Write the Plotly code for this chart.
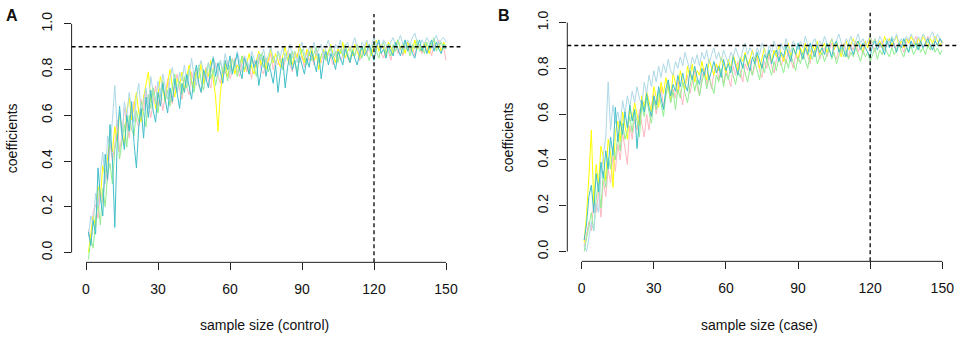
import plotly.graph_objects as go

# ---------------- data ----------------
sample_size = list(range(1, 151))

# Panel A: sample size (control)
a_pink = [0.10, 0.04, 0.18, 0.21, 0.15, 0.27, 0.22, 0.36, 0.31, 0.48,
          0.40, 0.47, 0.58, 0.44, 0.52, 0.63, 0.57, 0.50, 0.62, 0.66,
          0.58, 0.55, 0.67, 0.62, 0.71, 0.64, 0.59, 0.66, 0.73, 0.64,
          0.70, 0.62, 0.68, 0.76, 0.69, 0.65, 0.74, 0.78, 0.71, 0.67,
          0.76, 0.72, 0.69, 0.79, 0.74, 0.80, 0.73, 0.70, 0.77, 0.81,
          0.75, 0.72, 0.80, 0.83, 0.77, 0.74, 0.81, 0.78, 0.84, 0.76,
          0.79, 0.85, 0.80, 0.77, 0.83, 0.86, 0.79, 0.82, 0.76, 0.84,
          0.81, 0.86, 0.80, 0.78, 0.85, 0.83, 0.87, 0.80, 0.84, 0.82,
          0.86, 0.80, 0.84, 0.88, 0.82, 0.79, 0.85, 0.87, 0.83, 0.86,
          0.81, 0.88, 0.84, 0.86, 0.82, 0.89, 0.85, 0.83, 0.87, 0.84,
          0.88, 0.85, 0.82, 0.87, 0.89, 0.84, 0.86, 0.90, 0.85, 0.83,
          0.88, 0.86, 0.90, 0.84, 0.87, 0.89, 0.86, 0.91, 0.87, 0.85,
          0.89, 0.92, 0.87, 0.85, 0.90, 0.88, 0.84, 0.89, 0.91, 0.87,
          0.90, 0.86, 0.89, 0.92, 0.88, 0.90, 0.86, 0.91, 0.89, 0.87,
          0.92, 0.88, 0.90, 0.86, 0.91, 0.89, 0.93, 0.88, 0.90, 0.84]
a_yellow = [0.00, 0.09, 0.16, 0.11, 0.29, 0.24, 0.38, 0.33, 0.42, 0.50,
            0.44, 0.55, 0.49, 0.61, 0.53, 0.47, 0.62, 0.68, 0.58, 0.64,
            0.70, 0.61, 0.57, 0.68, 0.74, 0.79, 0.66, 0.72, 0.63, 0.69,
            0.77, 0.71, 0.66, 0.74, 0.80, 0.72, 0.68, 0.76, 0.73, 0.79,
            0.71, 0.77, 0.82, 0.75, 0.72, 0.79, 0.76, 0.83, 0.74, 0.80,
            0.77, 0.84, 0.76, 0.68, 0.53, 0.70, 0.79, 0.83, 0.77, 0.81,
            0.85, 0.78, 0.82, 0.80, 0.86, 0.79, 0.83, 0.87, 0.81, 0.78,
            0.84, 0.88, 0.82, 0.86, 0.80, 0.85, 0.89, 0.83, 0.87, 0.84,
            0.81, 0.86, 0.90, 0.84, 0.87, 0.82, 0.88, 0.85, 0.91, 0.86,
            0.83, 0.89, 0.86, 0.90, 0.84, 0.87, 0.80, 0.86, 0.89, 0.85,
            0.88, 0.91, 0.86, 0.83, 0.89, 0.87, 0.92, 0.85, 0.88, 0.90,
            0.86, 0.91, 0.88, 0.85, 0.90, 0.87, 0.92, 0.89, 0.86, 0.91,
            0.93, 0.88, 0.91, 0.89, 0.86, 0.92, 0.90, 0.87, 0.91, 0.93,
            0.89, 0.91, 0.87, 0.92, 0.90, 0.88, 0.93, 0.89, 0.91, 0.88,
            0.92, 0.90, 0.87, 0.91, 0.93, 0.89, 0.91, 0.88, 0.92, 0.90]
a_green = [-0.03, 0.06, 0.02, 0.14, 0.22, 0.12, 0.28, 0.20, 0.34, 0.39,
           0.30, 0.45, 0.52, 0.41, 0.49, 0.56, 0.46, 0.60, 0.54, 0.51,
           0.62, 0.57, 0.66, 0.60, 0.55, 0.69, 0.63, 0.72, 0.67, 0.61,
           0.70, 0.75, 0.66, 0.71, 0.64, 0.73, 0.78, 0.70, 0.75, 0.69,
           0.77, 0.72, 0.80, 0.74, 0.70, 0.78, 0.82, 0.75, 0.71, 0.79,
           0.83, 0.76, 0.80, 0.73, 0.79, 0.84, 0.78, 0.81, 0.75, 0.82,
           0.79, 0.84, 0.77, 0.82, 0.86, 0.80, 0.83, 0.78, 0.85, 0.81,
           0.77, 0.84, 0.87, 0.81, 0.85, 0.79, 0.83, 0.86, 0.82, 0.88,
           0.84, 0.80, 0.87, 0.85, 0.82, 0.88, 0.84, 0.79, 0.86, 0.89,
           0.85, 0.82, 0.88, 0.84, 0.87, 0.90, 0.83, 0.86, 0.88, 0.84,
           0.87, 0.90, 0.85, 0.88, 0.83, 0.89, 0.86, 0.91, 0.87, 0.84,
           0.89, 0.86, 0.91, 0.88, 0.85, 0.90, 0.87, 0.84, 0.89, 0.92,
           0.88, 0.85, 0.90, 0.92, 0.87, 0.89, 0.86, 0.91, 0.88, 0.93,
           0.89, 0.87, 0.92, 0.90, 0.86, 0.91, 0.89, 0.93, 0.88, 0.90,
           0.87, 0.92, 0.89, 0.91, 0.94, 0.88, 0.90, 0.92, 0.89, 0.91]
a_lightblue = [0.07, 0.16, 0.12, 0.26, 0.20, 0.35, 0.44, 0.30, 0.51, 0.46,
               0.58, 0.73, 0.55, 0.62, 0.49, 0.66, 0.59, 0.70, 0.63, 0.57,
               0.68, 0.74, 0.61, 0.66, 0.72, 0.63, 0.77, 0.70, 0.65, 0.75,
               0.69, 0.78, 0.72, 0.67, 0.76, 0.81, 0.73, 0.70, 0.79, 0.75,
               0.82, 0.74, 0.78, 0.85, 0.77, 0.73, 0.81, 0.84, 0.78, 0.75,
               0.83, 0.79, 0.86, 0.81, 0.77, 0.84, 0.80, 0.87, 0.82, 0.78,
               0.85, 0.81, 0.88, 0.83, 0.79, 0.86, 0.84, 0.81, 0.88, 0.85,
               0.82, 0.87, 0.84, 0.89, 0.83, 0.86, 0.90, 0.85, 0.82, 0.88,
               0.86, 0.90, 0.84, 0.87, 0.91, 0.85, 0.88, 0.83, 0.89, 0.92,
               0.87, 0.84, 0.90, 0.88, 0.92, 0.86, 0.89, 0.91, 0.85, 0.90,
               0.93, 0.88, 0.86, 0.91, 0.89, 0.93, 0.87, 0.90, 0.92, 0.88,
               0.91, 0.94, 0.89, 0.87, 0.92, 0.90, 0.93, 0.88, 0.91, 0.94,
               0.90, 0.92, 0.89, 0.93, 0.91, 0.88, 0.92, 0.94, 0.90, 0.92,
               0.95, 0.91, 0.89, 0.93, 0.91, 0.94, 0.96, 0.92, 0.90, 0.93,
               0.91, 0.94, 0.92, 0.89, 0.93, 0.95, 0.91, 0.93, 0.94, 0.92]
a_teal = [0.09, 0.03, 0.14, 0.08, 0.37, 0.24, 0.16, 0.43, 0.32, 0.56,
          0.41, 0.11, 0.48, 0.64, 0.52, 0.45, 0.60, 0.53, 0.66, 0.48,
          0.37, 0.55, 0.63, 0.50, 0.68, 0.59, 0.71, 0.62, 0.57, 0.70,
          0.64, 0.74, 0.67, 0.61, 0.72, 0.66, 0.76, 0.69, 0.63, 0.74,
          0.70, 0.78, 0.72, 0.67, 0.77, 0.82, 0.74, 0.70, 0.80, 0.76,
          0.72, 0.81, 0.85, 0.77, 0.83, 0.79, 0.74, 0.84, 0.80, 0.86,
          0.78, 0.83, 0.87, 0.80, 0.76, 0.85, 0.82, 0.78, 0.86, 0.81,
          0.84, 0.73, 0.80, 0.86, 0.77, 0.83, 0.79, 0.74, 0.82, 0.70,
          0.79, 0.85, 0.72, 0.81, 0.87, 0.80, 0.84, 0.77, 0.86, 0.82,
          0.78, 0.85, 0.81, 0.88, 0.83, 0.79, 0.87, 0.76, 0.84, 0.88,
          0.82, 0.87, 0.84, 0.80, 0.88, 0.85, 0.82, 0.89, 0.86, 0.83,
          0.88, 0.85, 0.82, 0.87, 0.90, 0.86, 0.88, 0.91, 0.87, 0.84,
          0.90, 0.93, 0.87, 0.89, 0.85, 0.91, 0.88, 0.86, 0.92, 0.89,
          0.86, 0.90, 0.93, 0.88, 0.91, 0.87, 0.85, 0.90, 0.93, 0.88,
          0.91, 0.87, 0.90, 0.93, 0.88, 0.92, 0.89, 0.87, 0.91, 0.89]

# Panel B: sample size (case)
b_pink = [0.02, 0.07, 0.13, 0.09, 0.22, 0.17, 0.26, 0.15, 0.31, 0.24,
          0.36, 0.30, 0.42, 0.35, 0.47, 0.40, 0.52, 0.45, 0.38, 0.55,
          0.49, 0.58, 0.53, 0.62, 0.56, 0.50, 0.60, 0.53, 0.64, 0.69,
          0.60, 0.66, 0.72, 0.63, 0.68, 0.74, 0.65, 0.71, 0.67, 0.75,
          0.70, 0.64, 0.73, 0.77, 0.69, 0.74, 0.79, 0.72, 0.68, 0.76,
          0.80, 0.73, 0.77, 0.71, 0.78, 0.82, 0.75, 0.79, 0.73, 0.80,
          0.76, 0.72, 0.81, 0.77, 0.83, 0.78, 0.74, 0.82, 0.79, 0.84,
          0.77, 0.81, 0.85, 0.79, 0.76, 0.83, 0.80, 0.86, 0.81, 0.78,
          0.84, 0.87, 0.81, 0.85, 0.82, 0.88, 0.84, 0.80, 0.86, 0.83,
          0.87, 0.84, 0.89, 0.85, 0.82, 0.88, 0.86, 0.90, 0.84, 0.87,
          0.89, 0.85, 0.88, 0.91, 0.86, 0.84, 0.89, 0.87, 0.91, 0.88,
          0.85, 0.90, 0.88, 0.92, 0.87, 0.90, 0.86, 0.91, 0.89, 0.93,
          0.90, 0.87, 0.91, 0.89, 0.92, 0.88, 0.90, 0.93, 0.89, 0.91,
          0.88, 0.92, 0.90, 0.87, 0.91, 0.93, 0.89, 0.91, 0.94, 0.90,
          0.92, 0.89, 0.91, 0.94, 0.90, 0.88, 0.92, 0.90, 0.93, 0.91]
b_yellow = [0.04, 0.16, 0.33, 0.53, 0.21, 0.38, 0.29, 0.46, 0.41, 0.31,
            0.49, 0.43, 0.28, 0.52, 0.57, 0.48, 0.61, 0.54, 0.49, 0.63,
            0.58, 0.65, 0.60, 0.55, 0.68, 0.63, 0.70, 0.66, 0.61, 0.72,
            0.67, 0.63, 0.74, 0.69, 0.76, 0.71, 0.66, 0.78, 0.73, 0.69,
            0.79, 0.74, 0.71, 0.81, 0.76, 0.82, 0.74, 0.79, 0.77, 0.83,
            0.78, 0.75, 0.84, 0.80, 0.77, 0.82, 0.79, 0.85, 0.81, 0.78,
            0.84, 0.80, 0.86, 0.82, 0.79, 0.85, 0.83, 0.87, 0.81, 0.84,
            0.88, 0.83, 0.86, 0.80, 0.85, 0.89, 0.84, 0.87, 0.83, 0.88,
            0.85, 0.90, 0.86, 0.83, 0.88, 0.91, 0.85, 0.89, 0.87, 0.84,
            0.89, 0.86, 0.91, 0.87, 0.84, 0.90, 0.88, 0.92, 0.86, 0.89,
            0.91, 0.87, 0.90, 0.93, 0.88, 0.91, 0.89, 0.85, 0.90, 0.92,
            0.88, 0.91, 0.93, 0.89, 0.92, 0.90, 0.87, 0.92, 0.89, 0.94,
            0.91, 0.93, 0.90, 0.92, 0.89, 0.94, 0.91, 0.93, 0.90, 0.92,
            0.94, 0.90, 0.92, 0.89, 0.93, 0.91, 0.94, 0.92, 0.90, 0.93,
            0.91, 0.94, 0.92, 0.89, 0.93, 0.91, 0.94, 0.92, 0.90, 0.92]
b_green = [0.00, 0.05, 0.11, 0.17, 0.09, 0.23, 0.30, 0.19, 0.35, 0.28,
           0.41, 0.36, 0.46, 0.40, 0.51, 0.44, 0.56, 0.49, 0.53, 0.59,
           0.52, 0.62, 0.57, 0.50, 0.64, 0.59, 0.67, 0.61, 0.56, 0.66,
           0.62, 0.70, 0.64, 0.59, 0.68, 0.73, 0.65, 0.70, 0.62, 0.71,
           0.67, 0.74, 0.69, 0.65, 0.72, 0.77, 0.70, 0.75, 0.68, 0.74,
           0.78, 0.71, 0.76, 0.73, 0.69, 0.77, 0.74, 0.80, 0.72, 0.78,
           0.75, 0.81, 0.77, 0.73, 0.79, 0.76, 0.82, 0.78, 0.74, 0.80,
           0.77, 0.83, 0.79, 0.75, 0.82, 0.78, 0.84, 0.80, 0.77, 0.83,
           0.79, 0.85, 0.81, 0.78, 0.84, 0.80, 0.86, 0.82, 0.79, 0.85,
           0.82, 0.87, 0.83, 0.80, 0.86, 0.84, 0.88, 0.82, 0.85, 0.87,
           0.83, 0.86, 0.89, 0.84, 0.87, 0.82, 0.86, 0.89, 0.85, 0.88,
           0.84, 0.87, 0.85, 0.89, 0.86, 0.83, 0.88, 0.85, 0.87, 0.83,
           0.86, 0.89, 0.84, 0.88, 0.86, 0.90, 0.87, 0.85, 0.89, 0.86,
           0.88, 0.91, 0.87, 0.85, 0.89, 0.87, 0.90, 0.86, 0.88, 0.91,
           0.87, 0.89, 0.86, 0.90, 0.88, 0.91, 0.87, 0.89, 0.86, 0.88]
b_lightblue = [0.03, 0.00, 0.06, 0.13, 0.09, 0.21, 0.17, 0.33, 0.42, 0.50,
               0.74, 0.53, 0.64, 0.56, 0.61, 0.55, 0.66, 0.60, 0.68, 0.63,
               0.70, 0.65, 0.72, 0.67, 0.64, 0.74, 0.69, 0.77, 0.72, 0.79,
               0.74, 0.81, 0.76, 0.82, 0.78, 0.84, 0.79, 0.77, 0.83, 0.80,
               0.85, 0.81, 0.87, 0.83, 0.79, 0.85, 0.82, 0.86, 0.81, 0.87,
               0.84, 0.88, 0.82, 0.86, 0.89, 0.84, 0.87, 0.83, 0.88, 0.85,
               0.82, 0.87, 0.85, 0.89, 0.86, 0.83, 0.88, 0.91, 0.86, 0.89,
               0.87, 0.84, 0.89, 0.86, 0.91, 0.88, 0.85, 0.90, 0.87, 0.92,
               0.89, 0.86, 0.91, 0.88, 0.93, 0.89, 0.87, 0.92, 0.90, 0.88,
               0.92, 0.89, 0.94, 0.90, 0.87, 0.91, 0.93, 0.89, 0.92, 0.90,
               0.94, 0.91, 0.89, 0.93, 0.90, 0.92, 0.95, 0.91, 0.88, 0.93,
               0.91, 0.94, 0.90, 0.92, 0.95, 0.91, 0.93, 0.90, 0.92, 0.94,
               0.91, 0.93, 0.90, 0.94, 0.92, 0.89, 0.93, 0.91, 0.94, 0.92,
               0.95, 0.91, 0.93, 0.90, 0.94, 0.92, 0.95, 0.93, 0.91, 0.94,
               0.92, 0.95, 0.93, 0.91, 0.94, 0.96, 0.92, 0.95, 0.93, 0.92]
b_teal = [0.05, 0.12, 0.24, 0.29, 0.17, 0.34, 0.26, 0.39, 0.32, 0.44,
          0.36, 0.50, 0.42, 0.63, 0.48, 0.57, 0.51, 0.61, 0.54, 0.64,
          0.57, 0.62, 0.45, 0.58, 0.66, 0.61, 0.69, 0.63, 0.59, 0.68,
          0.64, 0.72, 0.67, 0.62, 0.71, 0.75, 0.68, 0.73, 0.70, 0.77,
          0.72, 0.78, 0.73, 0.70, 0.79, 0.75, 0.81, 0.76, 0.73, 0.80,
          0.77, 0.82, 0.75, 0.79, 0.83, 0.78, 0.81, 0.76, 0.84, 0.79,
          0.82, 0.78, 0.85, 0.81, 0.77, 0.84, 0.80, 0.86, 0.82, 0.79,
          0.85, 0.82, 0.87, 0.83, 0.80, 0.86, 0.84, 0.88, 0.82, 0.86,
          0.88, 0.83, 0.87, 0.85, 0.90, 0.86, 0.83, 0.89, 0.86, 0.91,
          0.87, 0.84, 0.89, 0.86, 0.91, 0.88, 0.85, 0.90, 0.87, 0.89,
          0.86, 0.91, 0.88, 0.85, 0.90, 0.92, 0.87, 0.90, 0.88, 0.85,
          0.91, 0.89, 0.86, 0.90, 0.92, 0.88, 0.91, 0.89, 0.87, 0.85,
          0.90, 0.92, 0.88, 0.91, 0.89, 0.86, 0.92, 0.89, 0.93, 0.90,
          0.87, 0.91, 0.89, 0.93, 0.90, 0.87, 0.92, 0.89, 0.91, 0.88,
          0.92, 0.89, 0.91, 0.93, 0.90, 0.88, 0.92, 0.90, 0.93, 0.91]

x_ticks = [0, 30, 60, 90, 120, 150]
y_ticks = [0.0, 0.2, 0.4, 0.6, 0.8, 1.0]
y_tick_labels = ["0.0", "0.2", "0.4", "0.6", "0.8", "1.0"]
threshold_y = 0.9
threshold_x = 120
x_titles = ["sample size (control)", "sample size (case)"]
y_title = "coefficients"

series_colors = ["#FFB6C1", "#FFFF00", "#90EE90", "#ADD8E6", "#41BFC9"]
panel_a = [a_pink, a_yellow, a_green, a_lightblue, a_teal]
panel_b = [b_pink, b_yellow, b_green, b_lightblue, b_teal]

# ---------------- figure ----------------
W, H = 957, 338
FONT = "Liberation Sans, Arial, sans-serif"

fig = go.Figure()

for panel, (xa, ya) in zip([panel_a, panel_b], [("x", "y"), ("x2", "y2")]):
    for vals, col in zip(panel, series_colors):
        fig.add_trace(go.Scatter(x=sample_size, y=vals, mode="lines",
                                 line=dict(color=col, width=1),
                                 xaxis=xa, yaxis=ya, showlegend=False,
                                 hoverinfo="skip"))

xdom_a = [71.6 / W, 460.4 / W]
xdom_b = [567.3 / W, 956.7 / W]
ydom_a = [(H - 261.9) / H, (H - 12.1) / H]
ydom_b = [(H - 260.9) / H, (H - 10.8) / H]


def xaxis(dom, anchor):
    return dict(domain=dom, anchor=anchor, range=[-6, 156], showgrid=False,
                zeroline=False, showline=False, ticks="outside", ticklen=7,
                tickwidth=1, tickcolor="#222", tickvals=x_ticks,
                tickfont=dict(family=FONT, size=14, color="#111"),
                ticklabelstandoff=7)


def yaxis(dom, anchor):
    return dict(domain=dom, anchor=anchor, range=[-0.043, 1.043], showgrid=False,
                zeroline=False, showline=False, ticks="outside", ticklen=7,
                tickwidth=1, tickcolor="#222", tickvals=y_ticks,
                ticktext=y_tick_labels, tickangle=-90,
                tickfont=dict(family=FONT, size=14, color="#111"),
                ticklabelstandoff=6)


fig.update_layout(
    width=W, height=H, margin=dict(l=0, r=0, t=0, b=0),
    paper_bgcolor="white", plot_bgcolor="white",
    xaxis=xaxis(xdom_a, "y"), yaxis=yaxis(ydom_a, "x"),
    xaxis2=xaxis(xdom_b, "y2"), yaxis2=yaxis(ydom_b, "x2"),
)

shapes = []
for xr, yr in [("x", "y"), ("x2", "y2")]:
    # R-style axis lines spanning first to last tick
    shapes.append(dict(type="line", xref=xr + " domain", yref=yr, x0=0, x1=0,
                       y0=y_ticks[0], y1=y_ticks[-1], line=dict(color="#222", width=1)))
    shapes.append(dict(type="line", xref=xr, yref=yr + " domain", x0=x_ticks[0],
                       x1=x_ticks[-1], y0=0, y1=0, line=dict(color="#222", width=1)))
    # dashed reference lines
    shapes.append(dict(type="line", xref=xr + " domain", yref=yr, x0=0, x1=1,
                       y0=threshold_y, y1=threshold_y,
                       line=dict(color="black", width=1.3, dash="4px,3px")))
    shapes.append(dict(type="line", xref=xr, yref=yr + " domain", x0=threshold_x,
                       x1=threshold_x, y0=0, y1=1,
                       line=dict(color="black", width=1.3, dash="4px,3px")))


def ann(text, px, py, size=14, angle=0):
    return dict(text=text, x=px / W, y=(H - py) / H, xref="paper", yref="paper",
                xanchor="center", yanchor="middle", textangle=angle,
                showarrow=False, font=dict(family=FONT, size=size, color="#111"))


annotations = [
    ann("<b>A</b>", 12, 14, size=16),
    ann("<b>B</b>", 503.5, 14, size=16),
    ann(x_titles[0], 264, 325),
    ann(x_titles[1], 759, 325),
    ann(y_title, 12, 137, angle=-90),
    ann(y_title, 508, 136, angle=-90),
]

fig.update_layout(shapes=shapes, annotations=annotations)
fig.write_html("out.html", config={"displayModeBar": False},
               post_script="document.body.style.margin='0';")
